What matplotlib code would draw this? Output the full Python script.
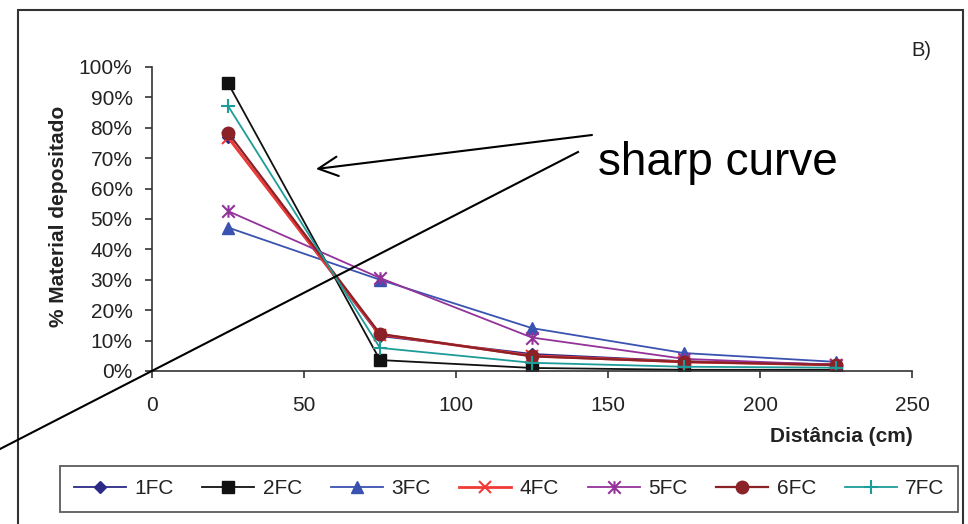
import matplotlib
matplotlib.use("Agg")
import matplotlib.pyplot as plt
from matplotlib.path import Path
from matplotlib.patches import Rectangle
from matplotlib.lines import Line2D
from matplotlib.ticker import FuncFormatter

plt.rcParams['font.family'] = ['Liberation Sans', 'DejaVu Sans']

# ---- data ----
distance = [25, 75, 125, 175, 225]
series_names = ["1FC", "2FC", "3FC", "4FC", "5FC", "6FC", "7FC"]
fc1 = [77.0, 11.5, 5.6, 3.2, 2.2]
fc2 = [94.7, 3.6, 1.0, 0.4, 0.4]
fc3 = [47.2, 30.0, 14.1, 5.9, 3.0]
fc4 = [76.8, 12.0, 5.0, 3.0, 2.0]
fc5 = [52.6, 30.6, 11.0, 4.0, 2.0]
fc6 = [78.4, 12.2, 4.8, 3.0, 2.0]
fc7 = [87.2, 7.6, 2.7, 1.4, 1.1]
x_ticks = [0, 50, 100, 150, 200, 250]
y_ticks = [0, 10, 20, 30, 40, 50, 60, 70, 80, 90, 100]

W, H = 968, 524
fig = plt.figure(figsize=(W / 100, H / 100), dpi=100)
ax = fig.add_axes([152 / W, (H - 371) / H, 760 / W, 304 / H])

star = Path([(0, -1), (0, 1), (-1, -1), (1, 1), (-1, 1), (1, -1)],
            [Path.MOVETO, Path.LINETO] * 3)

styles = [
    dict(color="#2B2A86", marker="D", ms=6, lw=1.3),
    dict(color="#111111", marker="s", ms=8, lw=1.3),
    dict(color="#3A52B0", marker="^", ms=8, lw=1.3),
    dict(color="#F03A35", marker="x", ms=8, lw=2.0, mew=1.5),
    dict(color="#93339A", marker=star, ms=9, lw=1.3, mew=1.5, mfc="none"),
    dict(color="#8A2228", marker="o", ms=9, lw=1.6),
    dict(color="#1E9C9A", marker="+", ms=10, lw=1.3, mew=1.5),
]
data = [fc1, fc2, fc3, fc4, fc5, fc6, fc7]
for name, vals, st in zip(series_names, data, styles):
    ax.plot(distance, vals, label=name, **st)

ax.set_xlim(0, 250)
ax.set_ylim(0, 100)
ax.set_xticks(x_ticks)
ax.set_yticks(y_ticks)
ax.yaxis.set_major_formatter(FuncFormatter(lambda v, p: f"{int(v)}%"))
for s in ["top", "right"]:
    ax.spines[s].set_visible(False)
for s in ["left", "bottom"]:
    ax.spines[s].set_color("#333333")
    ax.spines[s].set_linewidth(1.2)
ax.tick_params(direction="out", length=5, width=1.2, color="#333333",
               labelsize=15, labelcolor="#222222")
ax.tick_params(axis="y", pad=9)
ax.tick_params(axis="x", pad=13)

ax.set_ylabel("% Material depositado", fontsize=15, fontweight="bold", color="#222222")
ax.yaxis.set_label_coords(-0.11, 0.51)
ax.set_xlabel("Distância (cm)", fontsize=15, fontweight="bold", color="#222222")
ax.xaxis.set_label_coords(0.907, -0.185)

# outer frame
fig.add_artist(Rectangle((18 / W, -0.05), (963 - 18) / W, (H - 10) / H + 0.05,
                         transform=fig.transFigure, fill=False,
                         edgecolor="#333333", lw=1.5))

fig.text(921 / W, (H - 50) / H, "B)", fontsize=14.5, ha="center", va="center", color="#222222")

# legend
leg = fig.legend(loc="lower left", bbox_to_anchor=(60 / W, 12 / H, 898 / W, 47 / H),
                 mode="expand", ncol=7, frameon=True, fancybox=False,
                 fontsize=15, handlelength=2.5, handletextpad=0.4,
                 borderaxespad=0, borderpad=0.65)
leg.get_frame().set_edgecolor("#333333")
leg.get_frame().set_linewidth(1.3)
for t in leg.get_texts():
    t.set_color("#222222")

# annotation
fig.text(598 / W, (H - 175) / H, "sharp curve", fontsize=33, ha="left", va="baseline")
ax.annotate("", xy=(316 / W, (H - 169) / H), xycoords="figure fraction",
            xytext=(592 / W, (H - 135) / H), textcoords="figure fraction",
            arrowprops=dict(arrowstyle="->,head_length=0.7,head_width=0.35",
                            mutation_scale=20, lw=1.5, color="black",
                            shrinkA=0, shrinkB=0))
fig.add_artist(Line2D([578 / W, 0], [(H - 152) / H, (H - 449) / H],
                      transform=fig.transFigure, color="black", lw=1.5))

fig.savefig("out.png", dpi=100)
